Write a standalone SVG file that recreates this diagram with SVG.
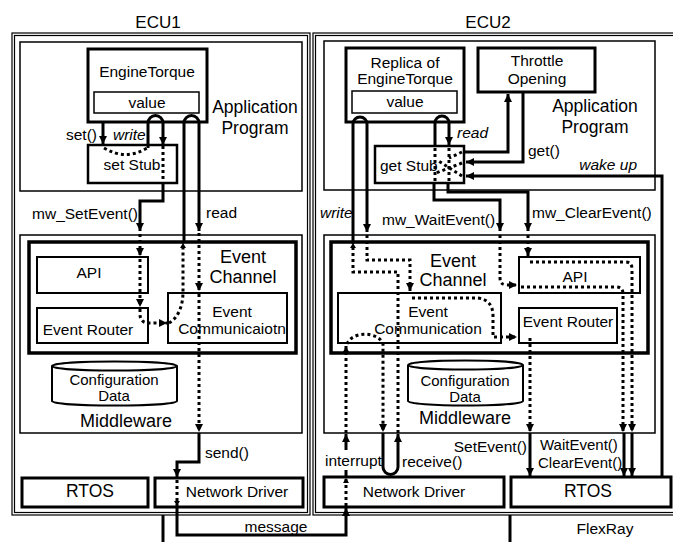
<svg xmlns="http://www.w3.org/2000/svg" width="673" height="542" viewBox="0 0 673 542">
  <style>
    .box { fill: none; stroke: #000; }
    .t { font-family: "Liberation Sans", Arial, sans-serif; font-size: 15.5px; fill: #000; }
    .big { font-size: 18px; }
    .c { text-anchor: middle; }
    .e { text-anchor: end; }
    .i { font-style: italic; }
    .ln { fill: none; stroke: #000; stroke-width: 3; }
    .dt { fill: none; stroke: #000; stroke-width: 3; stroke-dasharray: 3 3; }
  </style>
  <defs>
    <marker id="a" markerUnits="userSpaceOnUse" markerWidth="9" markerHeight="9" refX="8" refY="4" orient="auto">
      <path d="M0,0 L8,4 L0,8 z" fill="#000"/>
    </marker>
    <marker id="s" markerUnits="userSpaceOnUse" markerWidth="7" markerHeight="7" refX="5" refY="3" orient="auto">
      <path d="M0,0 L5,3 L0,6 z" fill="#000"/>
    </marker>
  </defs>
  <rect width="673" height="542" fill="#fff"/>

  <!-- ECU1 -->
  <g id="ecu1">
    <text class="t big c" x="158" y="28" style="font-size:17px">ECU1</text>
    <rect class="box" x="12" y="33" width="298" height="482" stroke-width="1.2"/>
    <rect class="box" x="14.5" y="35.5" width="293" height="477" stroke-width="1.2"/>
  </g>
  <g id="ecu1-app">
    <rect class="box" x="20" y="42" width="282" height="149" stroke-width="1.5"/>
    <text class="t big c" x="255" y="113" style="font-size:17.5px">Application</text>
    <text class="t big c" x="255" y="134" style="font-size:17.5px">Program</text>
  </g>
  <g id="ecu1-enginetorque">
    <rect class="box" x="88" y="49" width="119" height="73" stroke-width="3"/>
    <text class="t c" x="147" y="77">EngineTorque</text>
    <rect class="box" x="94" y="92" width="105" height="21" stroke-width="1.5"/>
    <text class="t c" x="147" y="108">value</text>
  </g>
  <g id="ecu1-setstub">
    <rect class="box" x="88" y="145" width="89" height="38" stroke-width="2.5"/>
    <text class="t c" x="132" y="170">set Stub</text>
  </g>
  <g id="ecu1-middleware">
    <rect class="box" x="20" y="235" width="282" height="198" stroke-width="1.5"/>
    <text class="t big c" x="126" y="427">Middleware</text>
  </g>
  <g id="ecu1-eventchannel">
    <rect class="box" x="29" y="242" width="267" height="111" stroke-width="3.5"/>
    <text class="t big c" x="243" y="263">Event</text>
    <text class="t big c" x="243" y="283">Channel</text>
  </g>
  <g id="ecu1-api">
    <rect class="box" x="37" y="257" width="111" height="36" stroke-width="2"/>
    <text class="t c" x="89" y="278">API</text>
  </g>
  <g id="ecu1-eventrouter">
    <rect class="box" x="37" y="308" width="111" height="35" stroke-width="2"/>
    <text class="t c" x="88" y="335">Event Router</text>
  </g>
  <g id="ecu1-eventcomm">
    <rect class="box" x="168" y="293" width="119" height="50" stroke-width="2"/>
    <text class="t c" x="232" y="317">Event</text>
    <text class="t c" x="232" y="334">Communicaiotn</text>
  </g>
  <g id="ecu1-config">
    <path class="box" d="M52,366 V401 A62.5,4.5 0 0 0 177,401 V366" fill="#fff" stroke-width="2"/>
    <ellipse class="box" cx="114.5" cy="366" rx="62.5" ry="4.5" stroke-width="2"/>
    <text class="t c" x="114" y="385" style="font-size:15px">Configuration</text>
    <text class="t c" x="114" y="401" style="font-size:15px">Data</text>
  </g>
  <g id="ecu1-rtos">
    <rect class="box" x="22" y="478" width="126" height="29" stroke-width="3"/>
    <text class="t c" x="90" y="497" style="font-size:17.5px">RTOS</text>
  </g>
  <g id="ecu1-netdriver">
    <rect class="box" x="155" y="478" width="148" height="29" stroke-width="3"/>
    <text class="t c" x="237" y="497">Network Driver</text>
  </g>

  <!-- ECU2 -->
  <g id="ecu2">
    <text class="t big c" x="488" y="28" style="font-size:17px">ECU2</text>
    <rect class="box" x="313" y="33" width="362" height="482" stroke-width="1.2"/>
    <rect class="box" x="315.5" y="35.5" width="362" height="477" stroke-width="1.2"/>
  </g>
  <g id="ecu2-app">
    <rect class="box" x="324" y="41" width="331" height="149" stroke-width="1.5"/>
    <text class="t big c" x="595" y="112" style="font-size:17.5px">Application</text>
    <text class="t big c" x="595" y="133" style="font-size:17.5px">Program</text>
  </g>
  <g id="ecu2-replica">
    <rect class="box" x="346" y="48" width="118" height="74" stroke-width="3"/>
    <text class="t c" x="405" y="68">Replica of</text>
    <text class="t c" x="405" y="84">EngineTorque</text>
    <rect class="box" x="352" y="91" width="105" height="22" stroke-width="1.5"/>
    <text class="t c" x="405" y="107">value</text>
  </g>
  <g id="ecu2-throttle">
    <rect class="box" x="478" y="48" width="117" height="44" stroke-width="3"/>
    <text class="t c" x="537" y="66">Throttle</text>
    <text class="t c" x="537" y="84">Opening</text>
  </g>
  <g id="ecu2-getstub">
    <rect class="box" x="375" y="146" width="89" height="37" stroke-width="2.5"/>
    <text class="t" x="380" y="171">get Stub</text>
  </g>
  <g id="ecu2-middleware">
    <rect class="box" x="324" y="235" width="331" height="198" stroke-width="1.5"/>
    <text class="t big c" x="465" y="424">Middleware</text>
  </g>
  <g id="ecu2-eventchannel">
    <rect class="box" x="331" y="242" width="317" height="111" stroke-width="3.5"/>
    <text class="t big c" x="453" y="267">Event</text>
    <text class="t big c" x="453" y="286">Channel</text>
  </g>
  <g id="ecu2-api">
    <rect class="box" x="519" y="257" width="121" height="36" stroke-width="2"/>
    <text class="t c" x="575" y="282">API</text>
  </g>
  <g id="ecu2-eventrouter">
    <rect class="box" x="519" y="308" width="98" height="35" stroke-width="2"/>
    <text class="t c" x="568" y="327">Event Router</text>
  </g>
  <g id="ecu2-eventcomm">
    <rect class="box" x="338" y="293" width="163" height="50" stroke-width="2"/>
    <text class="t c" x="428" y="317">Event</text>
    <text class="t c" x="428" y="334">Communication</text>
  </g>
  <g id="ecu2-config">
    <path class="box" d="M408,365 V401 A57.5,4.5 0 0 0 523,401 V365" fill="#fff" stroke-width="2"/>
    <ellipse class="box" cx="465.5" cy="365" rx="57.5" ry="4.5" stroke-width="2"/>
    <text class="t c" x="465" y="386" style="font-size:15px">Configuration</text>
    <text class="t c" x="465" y="402" style="font-size:15px">Data</text>
  </g>
  <g id="ecu2-netdriver">
    <rect class="box" x="324" y="477" width="180" height="30" stroke-width="3"/>
    <text class="t c" x="414" y="497">Network Driver</text>
  </g>
  <g id="ecu2-rtos">
    <rect class="box" x="511" y="477" width="160" height="30" stroke-width="3"/>
    <text class="t c" x="588" y="497" style="font-size:17.5px">RTOS</text>
  </g>

  <!-- connectors -->
  <g id="connectors">
    <!-- ECU1: set / write into value -->
    <path class="ln" d="M103,122 V144" marker-end="url(#a)"/>
    <path class="dt" d="M104,148 Q126,161 147,148"/>
    <path class="ln" d="M148,148 V123 A7.5,7.5 0 0 1 163,123 V145" marker-end="url(#a)"/>
    <path class="dt" d="M163,146 V183"/>
    <path class="ln" d="M163,183 V201 H140 V231" marker-end="url(#a)"/>
    <path class="dt" d="M140,234 V256" marker-end="url(#a)"/>
    <path class="dt" d="M140,259 V307" marker-end="url(#a)"/>
    <path class="dt" d="M140,309 V314 Q140,323 149,323 H167" marker-end="url(#a)"/>
    <!-- ECU1: read loop -->
    <path class="dt" d="M169,323 C178,318 183,306 183,292 V243" marker-end="url(#s)"/>
    <path class="ln" d="M184,242 V123 A7.5,7.5 0 0 1 199,123 V231" marker-end="url(#a)"/>
    <path class="dt" d="M199,233 V291" marker-end="url(#a)"/>
    <path class="dt" d="M199,294 V432" marker-end="url(#a)"/>
    <path class="ln" d="M199,433 V462 H177 V477" marker-end="url(#a)"/>
    <path class="dt" d="M177,480 V506" marker-end="url(#s)"/>
    <!-- message over the bus -->
    <path class="ln" d="M177,507 V535 H346 V508" marker-end="url(#a)"/>
    <!-- ECU2: interrupt / receive -->
    <path class="dt" d="M346,506 V478" marker-end="url(#s)"/>
    <path class="ln" d="M346,477 V434" marker-end="url(#a)"/>
    <path class="dt" d="M346,433 V346" marker-end="url(#a)"/>
    <path class="dt" d="M347,344 C352,331 378,331 383,344 V432" marker-end="url(#a)"/>
    <path class="ln" d="M383,433 V467 A7.5,7.5 0 0 0 398,467 V434" marker-end="url(#a)"/>
    <path class="dt" d="M398,433 V272 H353 V243" marker-end="url(#s)"/>
    <!-- ECU2: write loop into replica value -->
    <path class="ln" d="M353,242 V124 A7,7 0 0 1 367,124 V232" marker-end="url(#a)"/>
    <path class="dt" d="M367,235 V260 H410 V291" marker-end="url(#a)"/>
    <path class="dt" d="M412,298 H478 Q493,300 493,316 V337 H517" marker-end="url(#a)"/>
    <path class="dt" d="M530,338 V432" marker-end="url(#a)"/>
    <path class="ln" d="M530,433 V476" marker-end="url(#a)"/>
    <!-- ECU2: read loop and get stub -->
    <path class="ln" d="M435,146 V123 A7,7 0 0 1 449,123 V145" marker-end="url(#a)"/>
    <path class="dt" d="M435,148 V183"/>
    <path class="dt" d="M449,148 V183"/>
    <path class="dt" d="M462,152 L449,158"/>
    <path class="dt" d="M462,163 L436,173"/>
    <path class="dt" d="M462,176 L437,160"/>
    <path class="ln" d="M464,152 H508 V94" marker-end="url(#a)"/>
    <path class="ln" d="M523,92 V162 H466" marker-end="url(#a)"/>
    <path class="ln" d="M662,477 V176 H466" marker-end="url(#a)"/>
    <path class="ln" d="M434,183 V200 H500 V231" marker-end="url(#a)"/>
    <path class="ln" d="M448,183 V192 H528 V231" marker-end="url(#a)"/>
    <!-- ECU2: wait / clear through the API -->
    <path class="dt" d="M500,235 V278 Q500,285 507,285 H517" marker-end="url(#a)"/>
    <path class="dt" d="M521,287 H616 Q623,287 623,294 V432" marker-end="url(#a)"/>
    <path class="dt" d="M528,235 V256" marker-end="url(#a)"/>
    <path class="dt" d="M530,262 H625 Q632,262 632,269 V432" marker-end="url(#a)"/>
    <path class="ln" d="M624,433 V476" marker-end="url(#a)"/>
    <path class="ln" d="M632,433 V476" marker-end="url(#a)"/>
    <!-- bus stubs -->
    <path class="ln" d="M163,515 V542"/>
    <path class="ln" d="M510,515 V542"/>
  </g>

  <!-- connector labels -->
  <g id="labels">
    <text class="t e" x="97" y="140">set()</text>
    <text class="t i" x="113" y="140">write</text>
    <text class="t e" x="138" y="219">mw_SetEvent()</text>
    <text class="t" x="206" y="218">read</text>
    <text class="t" x="205" y="458">send()</text>
    <text class="t c" x="276" y="532">message</text>
    <text class="t i" x="457" y="138">read</text>
    <text class="t" x="528" y="156">get()</text>
    <text class="t e i" x="637" y="170">wake up</text>
    <text class="t i" x="320" y="218">write</text>
    <text class="t" x="382" y="225">mw_WaitEvent()</text>
    <text class="t" x="532" y="218">mw_ClearEvent()</text>
    <rect x="324" y="450" width="53" height="20" fill="#fff"/>
    <text class="t" x="325" y="466">interrupt</text>
    <text class="t" x="402" y="467">receive()</text>
    <text class="t e" x="527" y="452">SetEvent()</text>
    <text class="t" x="540" y="450" style="font-size:15px">WaitEvent()</text>
    <text class="t" x="538" y="468" style="font-size:15px">ClearEvent()</text>
    <text class="t c" x="605" y="534">FlexRay</text>
  </g>
</svg>
